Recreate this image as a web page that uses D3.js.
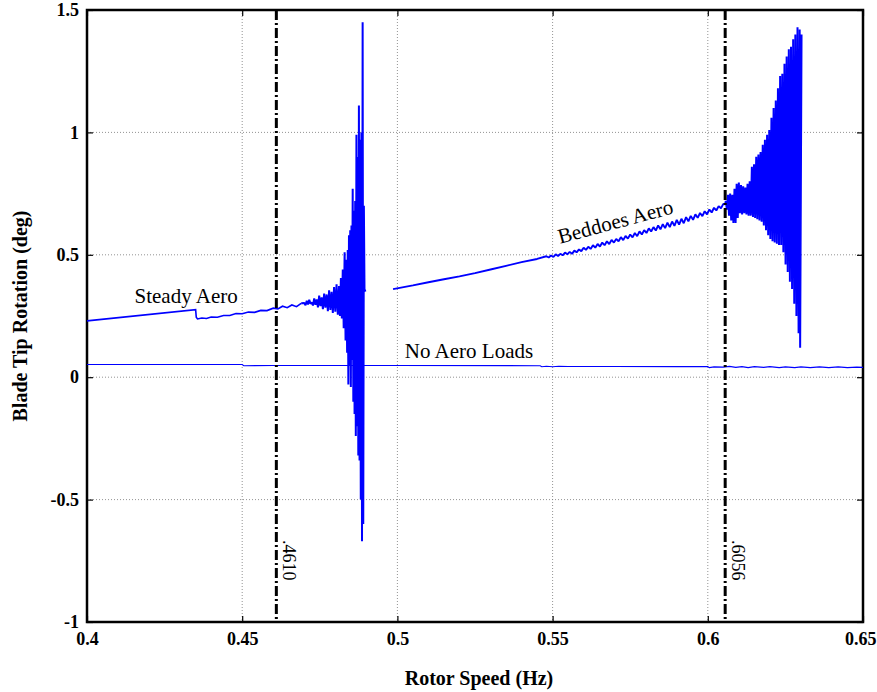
<!DOCTYPE html>
<html>
<head>
<meta charset="utf-8">
<script src="https://cdn.jsdelivr.net/npm/d3@7"></script>
<style>
  body { margin: 0; background: #fff; }
  text { font-family: "Liberation Serif", "Times New Roman", serif; }
</style>
</head>
<body>
<div class="chart"></div>
<script>
// x ticks / y ticks
const xTicks = [0.4, 0.45, 0.5, 0.55, 0.6, 0.65]
const yTicks = [-1, -0.5, 0, 0.5, 1, 1.5]

// critical speeds (dash-dot markers)
const critSpeeds = [0.4610, 0.6056]
const critLabels = [".4610", ".6056"]

// Steady Aero: trend then first flutter burst  [Hz, deg]
const steadyTrend = [
  [0.4000, 0.230], [0.4350, 0.276], [0.4352, 0.245], [0.4356, 0.238],
  [0.4370, 0.242], [0.4385, 0.240], [0.4400, 0.246], [0.4420, 0.245],
  [0.4440, 0.252], [0.4460, 0.252], [0.4480, 0.260], [0.4500, 0.259],
  [0.4520, 0.266], [0.4540, 0.265], [0.4560, 0.273], [0.4580, 0.272],
  [0.4600, 0.282], [0.4615, 0.279], [0.4630, 0.290], [0.4645, 0.284],
  [0.4660, 0.295], [0.4675, 0.288], [0.4690, 0.302]
]
const steadyBurst = [
  [0.4690, 0.302], [0.4700, 0.303], [0.4704, 0.294], [0.4708, 0.312],
  [0.4712, 0.297], [0.4716, 0.316], [0.4720, 0.300], [0.4724, 0.306],
  [0.4728, 0.293], [0.4732, 0.322], [0.4736, 0.296], [0.4740, 0.318],
  [0.4744, 0.285], [0.4748, 0.333], [0.4752, 0.290], [0.4756, 0.326],
  [0.4760, 0.278], [0.4764, 0.342], [0.4768, 0.284], [0.4772, 0.338],
  [0.4776, 0.270], [0.4780, 0.355], [0.4784, 0.275], [0.4788, 0.349],
  [0.4792, 0.262], [0.4796, 0.368], [0.4800, 0.268], [0.4804, 0.380],
  [0.4808, 0.255], [0.4812, 0.372], [0.4815, 0.250], [0.4818, 0.405],
  [0.4821, 0.240], [0.4824, 0.440], [0.4827, 0.200], [0.4830, 0.510],
  [0.4833, 0.150], [0.4836, 0.480], [0.4838, 0.100], [0.4840, 0.520],
  [0.4842, -0.030], [0.4844, 0.580], [0.4846, 0.050], [0.4848, 0.600],
  [0.4850, -0.040], [0.4852, 0.620], [0.4854, 0.070], [0.4856, 0.770],
  [0.4858, -0.100], [0.4860, 0.680], [0.4862, -0.150], [0.4864, 0.720],
  [0.4866, -0.240], [0.4868, 0.990], [0.4870, -0.200], [0.4872, 0.900],
  [0.4874, -0.320], [0.4876, 1.110], [0.4878, -0.340], [0.4880, 0.970],
  [0.4882, -0.500], [0.4884, 1.000], [0.4886, -0.670], [0.4888, 1.450],
  [0.4890, -0.600], [0.4892, 0.700], [0.4894, 0.360], [0.4897, 0.350]
]

// Beddoes Aero: trend then second flutter burst
const beddoesTrend = [
  [0.4986, 0.360], [0.5050, 0.375], [0.5100, 0.388], [0.5150, 0.400],
  [0.5200, 0.412], [0.5250, 0.425], [0.5300, 0.440], [0.5350, 0.455],
  [0.5400, 0.470], [0.5450, 0.483], [0.5480, 0.494], [0.54875, 0.489],
  [0.5495, 0.497], [0.55025, 0.491], [0.5510, 0.502], [0.55175, 0.495],
  [0.5525, 0.504], [0.55325, 0.498], [0.5540, 0.509], [0.55475, 0.502],
  [0.5555, 0.512], [0.55625, 0.504], [0.5570, 0.517], [0.55775, 0.510],
  [0.5585, 0.522], [0.55925, 0.515], [0.5600, 0.529], [0.56075, 0.520],
  [0.5615, 0.533], [0.56225, 0.524], [0.5630, 0.539], [0.56375, 0.529],
  [0.5645, 0.544], [0.56525, 0.534], [0.5660, 0.550], [0.56675, 0.539],
  [0.5675, 0.555], [0.56825, 0.544], [0.5690, 0.561], [0.56975, 0.550],
  [0.5705, 0.565], [0.57125, 0.555], [0.5720, 0.572], [0.57275, 0.560],
  [0.5735, 0.577], [0.57425, 0.566], [0.5750, 0.583], [0.57575, 0.571],
  [0.5765, 0.589], [0.57725, 0.576], [0.5780, 0.596], [0.57875, 0.583],
  [0.5795, 0.601], [0.58025, 0.589], [0.5810, 0.608], [0.58175, 0.595],
  [0.5825, 0.613], [0.58325, 0.599], [0.5840, 0.620], [0.58475, 0.604],
  [0.5855, 0.625], [0.58625, 0.609], [0.5870, 0.631], [0.58775, 0.613],
  [0.5885, 0.636], [0.58925, 0.618], [0.5900, 0.643], [0.59075, 0.623],
  [0.5915, 0.647], [0.59225, 0.629], [0.5930, 0.654], [0.59375, 0.637],
  [0.5945, 0.659], [0.59525, 0.643], [0.5960, 0.665], [0.59675, 0.651],
  [0.5975, 0.671], [0.59825, 0.658], [0.5990, 0.678], [0.59975, 0.665],
  [0.6005, 0.685], [0.60125, 0.673], [0.6020, 0.692], [0.60275, 0.681],
  [0.6035, 0.699], [0.60425, 0.690], [0.6050, 0.708], [0.6056, 0.706]
]
const beddoesBurst = [
  [0.6056, 0.706],
  [0.6058, 0.720], [0.60615, 0.685], [0.6065, 0.745], [0.60685, 0.660],
  [0.6072, 0.750], [0.60755, 0.640], [0.6079, 0.745], [0.60825, 0.630],
  [0.6086, 0.770], [0.60895, 0.630], [0.6093, 0.790], [0.60965, 0.650],
  [0.6100, 0.795], [0.61035, 0.670], [0.6107, 0.785], [0.61105, 0.665],
  [0.6114, 0.780], [0.61175, 0.670], [0.6121, 0.775], [0.61245, 0.665],
  [0.6128, 0.790], [0.61315, 0.660], [0.6135, 0.800], [0.61385, 0.660],
  [0.6142, 0.860], [0.61455, 0.655], [0.6149, 0.870], [0.61525, 0.650],
  [0.6156, 0.900], [0.61595, 0.645], [0.6163, 0.910], [0.61665, 0.640],
  [0.6170, 0.920], [0.61735, 0.635], [0.6177, 0.950], [0.61805, 0.620],
  [0.6184, 0.970], [0.61875, 0.600], [0.6191, 0.990], [0.61945, 0.580],
  [0.6198, 1.010], [0.62015, 0.565], [0.6205, 1.060], [0.62085, 0.555],
  [0.6212, 1.100], [0.62155, 0.550], [0.6219, 1.130], [0.62225, 0.545],
  [0.6226, 1.180], [0.62295, 0.540], [0.6233, 1.230], [0.62365, 0.540],
  [0.6240, 1.240], [0.62435, 0.510], [0.6247, 1.280], [0.62505, 0.460],
  [0.6254, 1.310], [0.62575, 0.430], [0.6261, 1.340], [0.62645, 0.390],
  [0.6268, 1.350], [0.62715, 0.360], [0.6275, 1.380], [0.62785, 0.300],
  [0.6282, 1.400], [0.62855, 0.250], [0.6289, 1.430], [0.62925, 0.180],
  [0.6296, 1.420], [0.62975, 0.120], [0.6302, 1.400]
]

// No Aero Loads
const noAero = [
  [0.4000, 0.052], [0.4500, 0.052], [0.4505, 0.047], [0.4600, 0.048],
  [0.5000, 0.048], [0.5460, 0.047], [0.5465, 0.043], [0.5480, 0.045],
  [0.5500, 0.043], [0.5520, 0.045], [0.5550, 0.044], [0.5700, 0.044],
  [0.5900, 0.043], [0.6000, 0.043], [0.6005, 0.039], [0.6020, 0.042],
  [0.6050, 0.041], [0.6070, 0.044], [0.6090, 0.040], [0.6110, 0.043],
  [0.6130, 0.039], [0.6150, 0.043], [0.6180, 0.040], [0.6200, 0.043],
  [0.6230, 0.039], [0.6250, 0.042], [0.6280, 0.039], [0.6300, 0.042],
  [0.6330, 0.039], [0.6360, 0.042], [0.6390, 0.039], [0.6420, 0.042],
  [0.6450, 0.039], [0.6480, 0.041], [0.6500, 0.040]
]

const margin = ({top: 10, right: 14, bottom: 70, left: 87})
const width = 877 - margin.left - margin.right,
      height = 692 - margin.top - margin.bottom;

const svg = d3.select(".chart").append("svg")
  .attr("width", 877)
  .attr("height", 692)
  .append("g")
  .attr("transform", `translate(${margin.left},${margin.top})`);

const xScale = d3.scaleLinear().domain([0.4, 0.65]).range([0, width]);
const yScale = d3.scaleLinear().domain([-1, 1.5]).range([height, 0]);

// grid
svg.append("g").selectAll("line")
  .data(xTicks.slice(1, -1)).enter().append("line")
  .attr("x1", d => xScale(d)).attr("x2", d => xScale(d))
  .attr("y1", 0).attr("y2", height)
  .attr("stroke", "#777").attr("stroke-width", 0.8).attr("stroke-dasharray", "1,2");
svg.append("g").selectAll("line")
  .data(yTicks.slice(1, -1)).enter().append("line")
  .attr("y1", d => yScale(d)).attr("y2", d => yScale(d))
  .attr("x1", 0).attr("x2", width)
  .attr("stroke", "#777").attr("stroke-width", 0.8).attr("stroke-dasharray", "1,2");

// axes (inward ticks on all four sides), plain hyphen for negatives
const fmt = d => String(d)
const xAxis = d3.axisBottom(xScale).tickValues(xTicks).tickSize(-6).tickPadding(10).tickFormat(fmt)
const yAxis = d3.axisLeft(yScale).tickValues(yTicks).tickSize(-6).tickPadding(8).tickFormat(fmt)

const xg = svg.append("g").attr("class", "axis").attr("transform", `translate(0,${height})`).call(xAxis)
svg.append("g").attr("class", "axis").call(yAxis)
svg.append("g").attr("class", "axis").call(d3.axisTop(xScale).tickValues(xTicks).tickSize(-6).tickFormat(""))
svg.append("g").attr("class", "axis").attr("transform", `translate(${width},0)`)
  .call(d3.axisRight(yScale).tickValues(yTicks).tickSize(-6).tickFormat(""))

svg.selectAll(".axis path").remove()
svg.selectAll(".axis line").attr("stroke", "#000").attr("stroke-width", 1.2)
svg.selectAll(".axis text")
  .attr("font-size", "18px").attr("font-weight", "bold").attr("fill", "#000")
// keep the last x label inside the window
xg.selectAll("text").filter(d => d === 0.65).attr("text-anchor", "end").attr("x", 13)

// frame
svg.append("rect").attr("x", 0).attr("y", 0).attr("width", width).attr("height", height)
  .attr("fill", "none").attr("stroke", "#000").attr("stroke-width", 2.5)

// data lines
const line = d3.line().x(d => xScale(d[0])).y(d => yScale(d[1]))
const plot = svg.append("g")

plot.append("path").datum(noAero).attr("d", line)
  .attr("fill", "none").attr("stroke", "#0000ff").attr("stroke-width", 1.1)
plot.append("path").datum(steadyTrend).attr("d", line)
  .attr("fill", "none").attr("stroke", "#0000ff").attr("stroke-width", 1.6)
plot.append("path").datum(steadyBurst).attr("d", line)
  .attr("fill", "none").attr("stroke", "#0000ff").attr("stroke-width", 2).attr("stroke-linejoin", "bevel")
plot.append("path").datum(beddoesTrend).attr("d", line)
  .attr("fill", "none").attr("stroke", "#0000ff").attr("stroke-width", 1.9).attr("stroke-linejoin", "bevel")
plot.append("path").datum(beddoesBurst).attr("d", line)
  .attr("fill", "none").attr("stroke", "#0000ff").attr("stroke-width", 2).attr("stroke-linejoin", "bevel")

// critical speed markers
svg.append("g").selectAll("line")
  .data(critSpeeds).enter().append("line")
  .attr("x1", d => xScale(d)).attr("x2", d => xScale(d))
  .attr("y1", 0).attr("y2", height)
  .attr("stroke", "#000").attr("stroke-width", 3).attr("stroke-dasharray", "10,3,2,3")

svg.append("g").selectAll("text")
  .data(critSpeeds).enter().append("text")
  .attr("transform", d => `translate(${xScale(d) + 7},${yScale(-0.665)}) rotate(90)`)
  .attr("font-size", "18px")
  .text((d, i) => critLabels[i])

// annotations
const notes = [
  {t: "Steady Aero", x: 0.4153, y: 0.305, r: 0},
  {t: "Beddoes Aero", x: 0.5524, y: 0.545, r: -15},
  {t: "No Aero Loads", x: 0.5024, y: 0.08, r: 0}
]
svg.append("g").selectAll("text")
  .data(notes).enter().append("text")
  .attr("transform", d => `translate(${xScale(d.x)},${yScale(d.y)}) rotate(${d.r})`)
  .attr("font-size", "21px")
  .text(d => d.t)

// axis labels
svg.append("text")
  .attr("x", width / 2 + 4).attr("y", height + 63)
  .attr("text-anchor", "middle").attr("font-size", "20px").attr("font-weight", "bold")
  .text("Rotor Speed (Hz)")
svg.append("text")
  .attr("transform", `translate(${-60},${height / 2}) rotate(-90)`)
  .attr("text-anchor", "middle").attr("font-size", "20px").attr("font-weight", "bold")
  .text("Blade Tip Rotation (deg)")
</script>
</body>
</html>
